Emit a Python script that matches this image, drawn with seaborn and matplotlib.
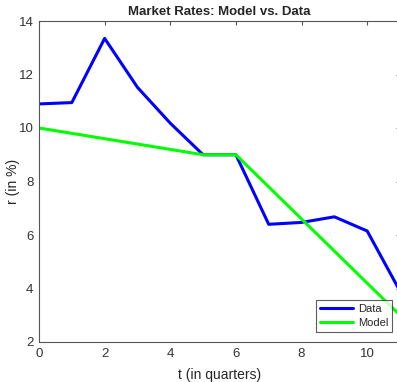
import matplotlib
matplotlib.use("Agg")
import matplotlib.pyplot as plt
import seaborn as sns
import pandas as pd

quarters = [0, 1, 2, 3, 4, 5, 6, 7, 8, 9, 10, 11]
data_rates = [10.9, 10.95, 13.35, 11.52, 10.18, 9.0, 9.0, 6.40, 6.47, 6.68, 6.15, 3.9]
model_rates = [10.0, 9.8, 9.6, 9.4, 9.2, 9.0, 9.0, 7.8, 6.6, 5.4, 4.2, 3.0]
series_names = ["Data", "Model"]
x_ticks = [0, 2, 4, 6, 8, 10]
y_ticks = [2, 4, 6, 8, 10, 12, 14]

df = pd.DataFrame({
    "t": quarters * 2,
    "r": data_rates + model_rates,
    "series": [series_names[0]] * len(quarters) + [series_names[1]] * len(quarters),
})

sns.set_style("white")
plt.rcParams['font.family'] = ['Liberation Sans', 'DejaVu Sans']

fig = plt.figure(figsize=(3.97, 3.82), dpi=100)
ax = fig.add_axes([39 / 397, 40 / 382, 361 / 397, 321 / 382])

sns.lineplot(data=df, x="t", y="r", hue="series",
             palette={"Data": "#0000ff", "Model": "#00ff00"},
             linewidth=2.2, ax=ax, legend=True)

ax.set_xlim(0, 11)
ax.set_ylim(2, 14)
ax.set_xticks(x_ticks)
ax.set_yticks(y_ticks)
ax.tick_params(direction="in", top=True, right=True, length=3, color="#555555",
               labelsize=9.5, labelcolor="#333333", width=0.8, pad=4)
for s in ax.spines.values():
    s.set_color("#555555")
    s.set_linewidth(0.8)

ax.set_xlabel("t (in quarters)", fontsize=10, color="#262626", labelpad=6)
ax.set_ylabel("r (in %)", fontsize=10, color="#262626")
ax.yaxis.set_label_coords(-0.052, 0.5)
ax.set_title("Market Rates: Model vs. Data", fontsize=9.5, fontweight="bold", pad=4)

leg = ax.legend(loc="lower right", bbox_to_anchor=(392 / 397, 50 / 382),
                bbox_transform=fig.transFigure, fontsize=8,
                frameon=True, fancybox=False, handlelength=3.0,
                borderpad=0.35, labelspacing=0.4, handletextpad=0.4,
                borderaxespad=0)
leg.get_frame().set_edgecolor("#333333")
leg.get_frame().set_linewidth(0.8)

fig.savefig("out.png", dpi=100)
